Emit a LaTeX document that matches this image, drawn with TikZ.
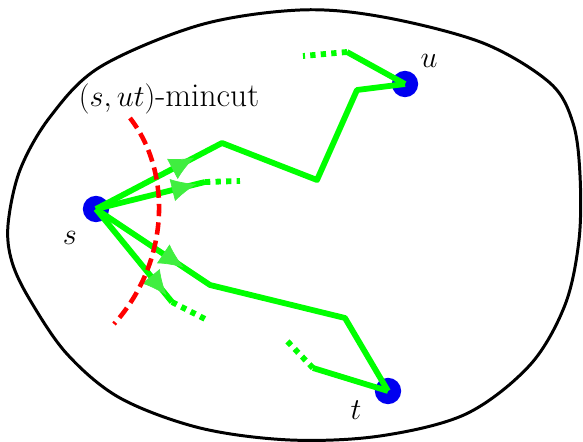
\documentclass[tikz,border=0pt]{standalone}
\usepackage{tikz}
\usetikzlibrary{arrows.meta,decorations.markings}
\definecolor{PathGreen}{HTML}{00FF00}
\definecolor{HeadGreen}{HTML}{40EE40}
\definecolor{CutRed}{HTML}{FF0000}
\definecolor{VertBlue}{HTML}{0000F0}
\tikzset{
  vert/.style={circle,fill=VertBlue,inner sep=0pt,minimum size=15pt},
  flow/.style={PathGreen,line width=3.3pt,line join=round},
  flowdots/.style={PathGreen,line width=3.3pt,dash pattern=on 3pt off 3pt},
  midhead/.style={postaction={decorate,decoration={markings,
    mark=at position #1 with {\arrow{Latex[length=14pt,width=13pt,color=HeadGreen]}}}}},
  lbl/.style={font=\fontsize{19}{22}\selectfont}
}

\begin{document}
\begin{tikzpicture}[x=0.02cm,y=-0.02cm]

        \useasboundingbox (0,0) rectangle (583,442);

        % the region
        \draw[line width=1.7pt] plot[smooth cycle,tension=0.55] coordinates {
          (8,225) (20,170) (50,117) (100,67) (200,25) (300,10) (383,17)
          (483,43) (550,83) (573,123) (580,175) (579,240) (565,305)
          (530,365) (466,414) (380,436) (290,440) (200,428) (120,398)
          (67,354) (30,300) (12,262)};

        % vertices
        \node[vert] (s) at (96,209) {};
        \node[vert] (u) at (405,84) {};
        \node[vert] (t) at (388,391) {};

        \node[lbl] at (70,238) {$s$};
        \node[lbl] at (429,61) {$u$};
        \node[lbl] at (356,410) {$t$};

        % bends of the paths
        \coordinate (a1) at (222,143);
        \coordinate (a2) at (317,180);
        \coordinate (a3) at (357,90);
        \coordinate (b1) at (205,182);
        \coordinate (b2) at (240,181);
        \coordinate (c1) at (210,285);
        \coordinate (c2) at (345,318);
        \coordinate (d1) at (172,302);
        \coordinate (d2) at (207,320);
        \coordinate (e1) at (347,52);
        \coordinate (e2) at (303,56);
        \coordinate (f1) at (313,368);
        \coordinate (f2) at (287,341);

        % paths out of s
        \draw[flow] (s.center) -- (a1) -- (a2) -- (a3) -- (u.center);
        \draw[flow] (s.center) -- (b1);
        \draw[flowdots] (b1) -- (b2);
        \draw[flow] (s.center) -- (c1) -- (c2) -- (t.center);
        \draw[flow] (s.center) -- (d1);
        \draw[flowdots] (d1) -- (d2);

        % heads
        \path[midhead=0.78] (s.center) -- (a1);
        \path[midhead=0.92] (s.center) -- (b1);
        \path[midhead=0.77] (s.center) -- (c1);
        \path[midhead=0.93] (s.center) -- (d1);

        % loose ends at u and t
        \draw[flow] (u.center) -- (e1);
        \draw[flowdots] (e1) -- (e2);
        \draw[flow] (t.center) -- (f1);
        \draw[flowdots] (f1) -- (f2);

        % the cut
        \coordinate (cut top) at (130,118);
        \coordinate (cut bot) at (114,324);
        \draw[CutRed,line width=2.6pt,dash pattern=on 7pt off 3.5pt]
          (cut top) .. controls (172,172) and (170,262) .. (cut bot);
        \node[lbl] (cutlbl) at (169,99) {$(s,ut)$-mincut};

      \end{tikzpicture}
\end{document}
